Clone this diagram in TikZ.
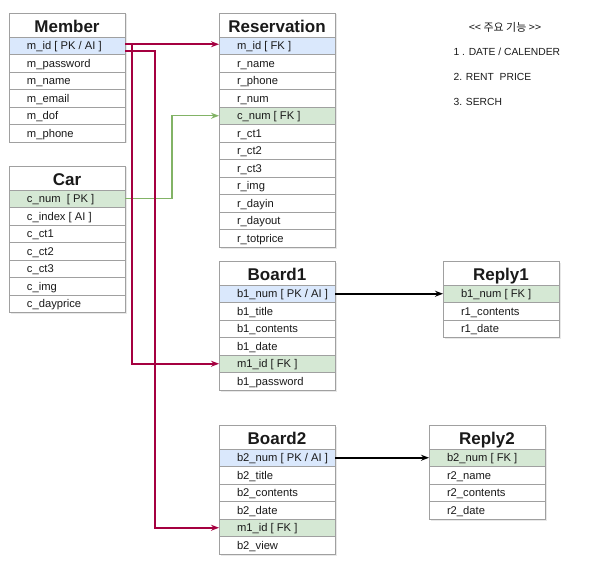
\documentclass[tikz,border=0pt]{standalone}
\usepackage{fontspec}
\setmainfont{Liberation Sans}
\newfontfamily\krfont{Noto Sans CJK KR}
\usetikzlibrary{positioning,arrows.meta,shadows}
\definecolor{pkblue}{HTML}{DAE8FC}
\definecolor{fkgreen}{HTML}{D5E8D4}
\definecolor{linered}{HTML}{A50040}
\definecolor{linegreen}{HTML}{82B366}
\definecolor{boxgray}{HTML}{A0A0A0}
\definecolor{txtdark}{HTML}{1A1A1A}
\newcommand{\fld}[1]{\makebox[80pt][l]{#1}}
\begin{document}
\begin{tikzpicture}[x=1pt,y=-1pt,
        tblbox/.style={draw=boxgray, fill=white, minimum width=116pt, inner sep=0pt, outer sep=0pt, text=txtdark,
            drop shadow={opacity=0.18, shadow xshift=1.5pt, shadow yshift=-1.5pt}},
        tbltitle/.style={tblbox, anchor=north west, minimum height=24pt, text height=15.5pt, text depth=0.5pt,
            font=\bfseries\fontsize{17}{17}\selectfont},
        tblrow/.style={tblbox, minimum height=17.5pt, text height=9pt, text depth=1pt, font=\fontsize{11.2}{12}\selectfont},
        pkrow/.style={tblrow, fill=pkblue},
        fkrow/.style={tblrow, fill=fkgreen},
        relred/.style={draw=linered, line width=1.8pt, -{Stealth[length=8pt,width=6pt]}},
        relgreen/.style={draw=linegreen, line width=1.4pt, -{Stealth[length=8pt,width=6pt]}},
        relblack/.style={draw=black, line width=1.6pt, -{Stealth[length=8pt,width=6pt]}},
        feature/.style={anchor=west, text=txtdark, font=\fontsize{10.3}{12}\selectfont}]
        \useasboundingbox (0,0) rectangle (592,583);
        % Member
        \node[tbltitle] (memt) at (9,13) {Member};
        \node[pkrow, below=0pt of memt] (mem0) {\fld{m\_id [ PK / AI ]}};
        \foreach \f [count=\i, evaluate=\i as \j using int(\i-1)] in {m\_password, m\_name, m\_email, m\_dof, m\_phone}
            \node[tblrow, below=0pt of mem\j] (mem\i) {\fld{\f}};
        % Car
        \node[tbltitle] (cart) at (9,166) {Car};
        \node[fkrow, below=0pt of cart] (car0) {\fld{c\_num\ \ [ PK ]}};
        \foreach \f [count=\i, evaluate=\i as \j using int(\i-1)] in {c\_index [ AI ], c\_ct1, c\_ct2, c\_ct3, c\_img, c\_dayprice}
            \node[tblrow, below=0pt of car\j] (car\i) {\fld{\f}};
        % Reservation
        \node[tbltitle] (rest) at (219,13) {Reservation};
        \node[pkrow, below=0pt of rest] (res0) {\fld{m\_id [ FK ]}};
        \foreach \f [count=\i, evaluate=\i as \j using int(\i-1)] in {r\_name, r\_phone, r\_num}
            \node[tblrow, below=0pt of res\j] (res\i) {\fld{\f}};
        \node[fkrow, below=0pt of res3] (res4) {\fld{c\_num [ FK ]}};
        \foreach \f [count=\i from 5, evaluate=\i as \j using int(\i-1)] in {r\_ct1, r\_ct2, r\_ct3, r\_img, r\_dayin, r\_dayout, r\_totprice}
            \node[tblrow, below=0pt of res\j] (res\i) {\fld{\f}};
        % Board1
        \node[tbltitle] (bdat) at (219,261) {Board1};
        \node[pkrow, below=0pt of bdat] (bda0) {\fld{b1\_num [ PK / AI ]}};
        \foreach \f [count=\i, evaluate=\i as \j using int(\i-1)] in {b1\_title, b1\_contents, b1\_date}
            \node[tblrow, below=0pt of bda\j] (bda\i) {\fld{\f}};
        \node[fkrow, below=0pt of bda3] (bda4) {\fld{m1\_id [ FK ]}};
        \node[tblrow, below=0pt of bda4] (bda5) {\fld{b1\_password}};
        % Reply1
        \node[tbltitle] (rpat) at (443,261) {Reply1};
        \node[fkrow, below=0pt of rpat] (rpa0) {\fld{b1\_num [ FK ]}};
        \foreach \f [count=\i, evaluate=\i as \j using int(\i-1)] in {r1\_contents, r1\_date}
            \node[tblrow, below=0pt of rpa\j] (rpa\i) {\fld{\f}};
        % Board2
        \node[tbltitle] (bdbt) at (219,425) {Board2};
        \node[pkrow, below=0pt of bdbt] (bdb0) {\fld{b2\_num [ PK / AI ]}};
        \foreach \f [count=\i, evaluate=\i as \j using int(\i-1)] in {b2\_title, b2\_contents, b2\_date}
            \node[tblrow, below=0pt of bdb\j] (bdb\i) {\fld{\f}};
        \node[fkrow, below=0pt of bdb3] (bdb4) {\fld{m1\_id [ FK ]}};
        \node[tblrow, below=0pt of bdb4] (bdb5) {\fld{b2\_view}};
        % Reply2
        \node[tbltitle] (rpbt) at (429,425) {Reply2};
        \node[fkrow, below=0pt of rpbt] (rpb0) {\fld{b2\_num [ FK ]}};
        \foreach \f [count=\i, evaluate=\i as \j using int(\i-1)] in {r2\_name, r2\_contents, r2\_date}
            \node[tblrow, below=0pt of rpb\j] (rpb\i) {\fld{\f}};
        % relations
        \draw[relgreen] (car0.east) -- ++(47,0) |- (res4.west);
        \draw[relred] ([yshift=1.5pt]mem0.east) -- ([yshift=1.5pt]res0.west);
        \draw[relred] ([yshift=1.5pt]mem0.east) -- ++(7,0) |- (bda4.west);
        \draw[relred] ([yshift=-5pt]mem0.east) -- ++(30,0) |- (bdb4.west);
        \draw[relblack] (bda0.east) -- (rpa0.west);
        \draw[relblack] (bdb0.east) -- (rpb0.west);
        % features
        \node[text=txtdark, font=\krfont\fontsize{11}{12}\selectfont] (feat) at (505,27) {<< 주요 기능 >>};
        \node[feature] (feat1) at (450,52) {1 . DATE / CALENDER};
        \node[feature] (feat2) at (450,77) {2. RENT\ \ PRICE};
        \node[feature] (feat3) at (450,102) {3. SERCH};
\end{tikzpicture}
\end{document}
